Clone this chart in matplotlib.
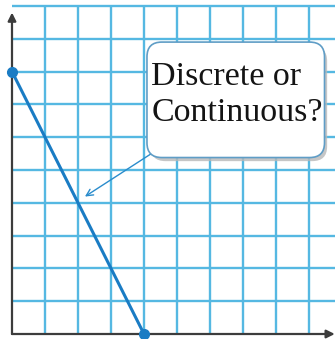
import matplotlib
matplotlib.use('Agg')
import matplotlib.pyplot as plt
from matplotlib.patches import FancyBboxPatch

# graph data
line_x = [0, 4]
line_y = [8, 0]
grid_x = list(range(1, 10))
grid_y = list(range(1, 11))
question = 'Discrete or\nContinuous?'

GRID_BLUE = '#55b8e2'
LINE_BLUE = '#1a7cc4'
AXIS_GRAY = '#3c3c3c'

fig = plt.figure(figsize=(3.35, 3.39), dpi=100)
ax = fig.add_axes([0, 0, 1, 1])
ax.set_xlim(-12 / 33, 323 / 33)
ax.set_ylim(-5 / 32.8, 334 / 32.8)
ax.axis('off')

# grid paper
ax.vlines(grid_x, 0, 10, color=GRID_BLUE, lw=1.7, zorder=1)
ax.hlines(grid_y, 0, 10, color=GRID_BLUE, lw=1.7, zorder=1)

# axes with arrow heads
ax.annotate('', xy=(0, 9.8), xytext=(0, 0),
            arrowprops=dict(arrowstyle='-|>', color=AXIS_GRAY, lw=1.6,
                            mutation_scale=12, shrinkA=0, shrinkB=0), zorder=3)
ax.annotate('', xy=(9.78, 0), xytext=(0, 0),
            arrowprops=dict(arrowstyle='-|>', color=AXIS_GRAY, lw=1.6,
                            mutation_scale=12, shrinkA=0, shrinkB=0), zorder=3)

# the graph
ax.plot(line_x, line_y, color=LINE_BLUE, lw=2.2, zorder=4,
        marker='o', markersize=7, clip_on=False)

# callout bubble
ax.add_patch(FancyBboxPatch((4.2, 5.27), 5.35, 3.5,
                            boxstyle='round,pad=0,rounding_size=0.45',
                            fc='#b8b8b8', ec='none', alpha=0.8, zorder=5))
ax.add_patch(FancyBboxPatch((4.09, 5.38), 5.38, 3.52,
                            boxstyle='round,pad=0,rounding_size=0.45',
                            fc='white', ec='#5f9dc6', lw=1.2, zorder=6))
ax.text(4.22, 8.3, question, fontsize=24.5, family='Liberation Serif',
        color='#141414', va='top', ha='left', linespacing=1.22, zorder=7)

ax.annotate('', xy=(2.21, 4.19), xytext=(4.27, 5.53),
            arrowprops=dict(arrowstyle='->', color='#2a8ccc', lw=1.0,
                            mutation_scale=12, shrinkA=0, shrinkB=0), zorder=5)

fig.savefig('out.png', dpi=100, facecolor='white')
